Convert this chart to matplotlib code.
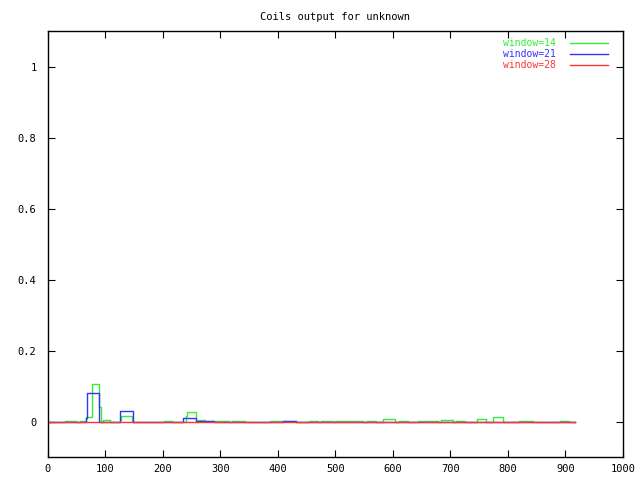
import matplotlib
matplotlib.use("Agg")
import matplotlib.pyplot as plt
import numpy as np

title = "Coils output for unknown"
labels = ["window=14", "window=21", "window=28"]
colors = ["#33ee33", "#3333ff", "#ff3333"]

# step breakpoints (residue position) and values (steps-post)
x14 = [1, 30, 50, 56, 65, 67, 77.6, 90, 93, 96, 108, 126, 128, 146, 203, 217, 240, 243, 258, 262, 274,
       316, 320, 343, 386, 432, 454, 470, 475, 496, 499, 548, 555, 571, 583, 603, 610, 627, 643, 678,
       683, 704, 710, 726, 746, 762, 774, 792, 820, 843, 891, 906, 916]
y14 = [0, 0.003, 0, 0.003, 0, 0.015, 0.106, 0.043, 0, 0.006, 0, 0.005, 0.017, 0, 0.003, 0, 0.017, 0.027, 0, 0.005, 0.003,
       0, 0.003, 0, 0.003, 0, 0.003, 0, 0.003, 0, 0.003, 0, 0.003, 0, 0.008, 0, 0.003, 0, 0.003, 0,
       0.006, 0, 0.003, 0, 0.008, 0, 0.013, 0, 0.003, 0, 0.003, 0, 0]

x21 = [1, 66, 69, 90, 126, 149, 236, 258, 290, 409, 431, 916]
y21 = [0, 0.01, 0.081, 0, 0.032, 0, 0.010, 0.003, 0, 0.003, 0, 0]

x28 = [1, 409, 431, 916]
y28 = [0, 0.001, 0, 0]

xticks = [0, 100, 200, 300, 400, 500, 600, 700, 800, 900, 1000]
yticks = [0, 0.2, 0.4, 0.6, 0.8, 1]
ytick_labels = ["0", "0.2", "0.4", "0.6", "0.8", "1"]

plt.rcParams['font.family'] = ['DejaVu Sans Mono']
plt.rcParams['font.size'] = 7.5

fig = plt.figure(figsize=(6.4, 4.8), dpi=100)
ax = fig.add_axes([0.0744, 0.0469, 0.899, 0.8875])

for xs, ys, lab, c in zip([x14, x21, x28], [y14, y21, y28], labels, colors):
    ax.plot(xs, ys, drawstyle="steps-post", color=c, lw=1, label=lab)

ax.set_xlim(0, 1000)
ax.set_ylim(-0.1, 1.1)
ax.set_xticks(xticks)
ax.set_yticks(yticks)
ax.set_yticklabels(ytick_labels)
ax.tick_params(direction="in", length=5, top=True, right=True, width=0.8)
ax.tick_params(axis="x", pad=5)
ax.tick_params(axis="y", pad=8)
for s in ax.spines.values():
    s.set_linewidth(1)
ax.set_title(title, fontsize=7.5, pad=8)

leg = ax.legend(loc="upper right", frameon=False, markerfirst=False,
                labelcolor="linecolor", handlelength=3.9, borderaxespad=1.0,
                borderpad=0.3, labelspacing=0.12, handletextpad=1.5, fontsize=7,
                bbox_to_anchor=(1 - 2 / 576, 1 + 6 / 426))

fig.savefig("out.png", dpi=100)
